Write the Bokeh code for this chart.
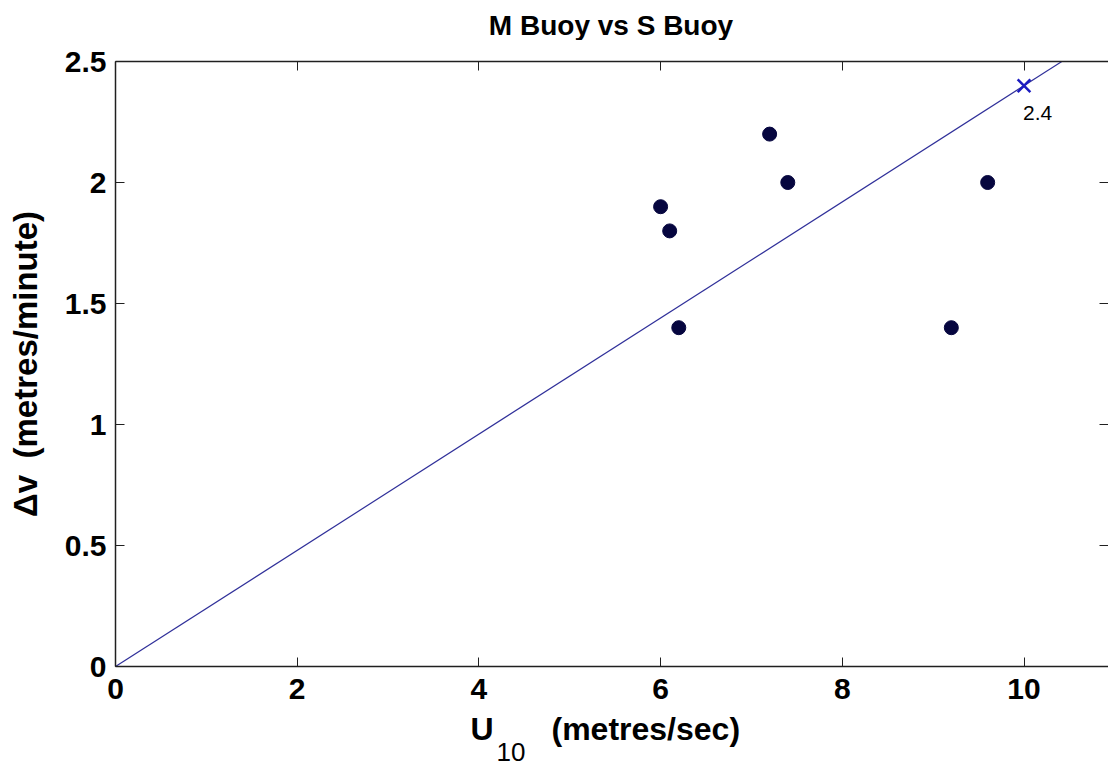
from bokeh.plotting import figure
from bokeh.models import Label, LinearAxis, FixedTicker, Range1d, CustomJSTickFormatter
from bokeh.layouts import column
from bokeh.core.properties import value
from bokeh.embed import file_html
from bokeh.resources import INLINE

# data
u10 = [6.0, 6.1, 6.2, 7.2, 7.4, 9.2, 9.6]
dv = [1.9, 1.8, 1.4, 2.2, 2.0, 1.4, 2.0]
fit_x = [0.0, 10.42]
fit_slope = 0.24
fit_y = [x * fit_slope for x in fit_x]
mark_x = [10.0]
mark_y = [2.4]
mark_label = "2.4"
x_ticks = [0, 2, 4, 6, 8, 10]
y_ticks = [0, 0.5, 1, 1.5, 2, 2.5]
y_tick_labels = {0: "0", 0.5: "0.5", 1: "1", 1.5: "1.5", 2: "2", 2.5: "2.5"}
title_text = "M Buoy vs S Buoy"
xlabel_main = "U"
xlabel_sub = "10"
xlabel_units = "(metres/sec)"
ylabel_text = "\u0394v\u2002(metres/minute)"

W, H = 1108, 761
FONT = "Liberation Sans"
TITLE_H = 40         # strip above the main plot for the title
XLAB_H = 50          # strip below the main plot for the x label
PH = H - XLAB_H - TITLE_H
FL, FT, FB = 115, 61, 666   # frame edges in page pixels

p = figure(width=W, height=PH, output_backend="svg", toolbar_location=None,
           title=None, x_range=Range1d(0, 10.93), y_range=Range1d(0, 2.5),
           min_border_left=FL, min_border_right=0, min_border_top=FT - TITLE_H,
           min_border_bottom=PH - (FB - TITLE_H))
p.outline_line_color = None
p.grid.visible = False
p.background_fill_color = "white"
p.border_fill_color = "white"

for ax in (p.xaxis[0], p.yaxis[0]):
    ax.major_tick_in = 9
    ax.major_tick_out = 0
    ax.minor_tick_line_color = None
    ax.axis_line_color = "#202020"
    ax.axis_line_width = 1.5
    ax.major_tick_line_color = "#202020"
    ax.major_label_text_font = FONT
    ax.major_label_text_font_style = "bold"
    ax.major_label_text_font_size = "30px"
    ax.major_label_text_color = "black"

p.xaxis[0].ticker = FixedTicker(ticks=x_ticks)
p.yaxis[0].ticker = FixedTicker(ticks=y_ticks)
p.yaxis[0].major_label_overrides = y_tick_labels
p.xaxis[0].major_label_standoff = 12
p.yaxis[0].major_label_standoff = 9

yax = p.yaxis[0]
yax.axis_label = ylabel_text
yax.axis_label_text_font = FONT
yax.axis_label_text_font_style = "bold"
yax.axis_label_text_font_size = "33px"
yax.axis_label_text_color = "black"
yax.axis_label_standoff = 18

blank = CustomJSTickFormatter(code="return ''")
top = LinearAxis(ticker=FixedTicker(ticks=x_ticks), major_tick_in=9, major_tick_out=0,
                 minor_tick_line_color=None, formatter=blank,
                 major_label_text_font_size="1px",
                 axis_line_color="#202020", axis_line_width=1.5,
                 major_tick_line_color="#202020", major_label_standoff=0)
p.add_layout(top, "above")
right = LinearAxis(ticker=FixedTicker(ticks=y_ticks), major_tick_in=9, major_tick_out=0,
                   minor_tick_line_color=None, formatter=blank,
                   major_label_text_font_size="1px",
                   axis_line_color=None, major_tick_line_color="#202020",
                   major_label_standoff=0)
p.add_layout(right, "right")

# fit line
p.line(fit_x, fit_y, line_color="#30309a", line_width=1.2)
# points
p.scatter(u10, dv, size=14, color="#06063f")
# mark
p.scatter(mark_x, mark_y, marker="x", size=18, line_color="#1c1cc0", line_width=2.5)
p.add_layout(Label(x=mark_x[0], y=mark_y[0], text=mark_label, x_offset=-1, y_offset=-27,
                   text_baseline="alphabetic",
                   text_font=FONT, text_font_size="21px", text_color="black"))


def strip(height):
    # a text-only strip whose frame is aligned with the main frame (x from FL to W)
    s = figure(width=W, height=height, output_backend="svg", toolbar_location=None,
               title=None, x_range=Range1d(FL, W), y_range=Range1d(0, height),
               min_border=0, x_axis_type=None, y_axis_type=None)
    s.outline_line_color = None
    s.grid.visible = False
    return s


tt = strip(TITLE_H)
tt.text(x=[(FL + W) / 2 - 1], y=[15], text=[title_text],
        text_baseline="alphabetic", text_align="center",
        text_font=value(FONT), text_font_style="bold",
        text_font_size="28px", text_color="black")

xl = strip(XLAB_H)
xl.text(x=[470, 551], y=[33, 33], text=[xlabel_main, xlabel_units],
        text_baseline="alphabetic", text_align="left",
        text_font=value(FONT), text_font_style="bold",
        text_font_size="32px", text_color="black")
xl.text(x=[496], y=[10], text=[xlabel_sub],
        text_baseline="alphabetic", text_align="left",
        text_font=value(FONT), text_font_size="26px", text_color="black")

layout = column(tt, p, xl, spacing=0)
open("out.html", "w").write(file_html(layout, INLINE))
